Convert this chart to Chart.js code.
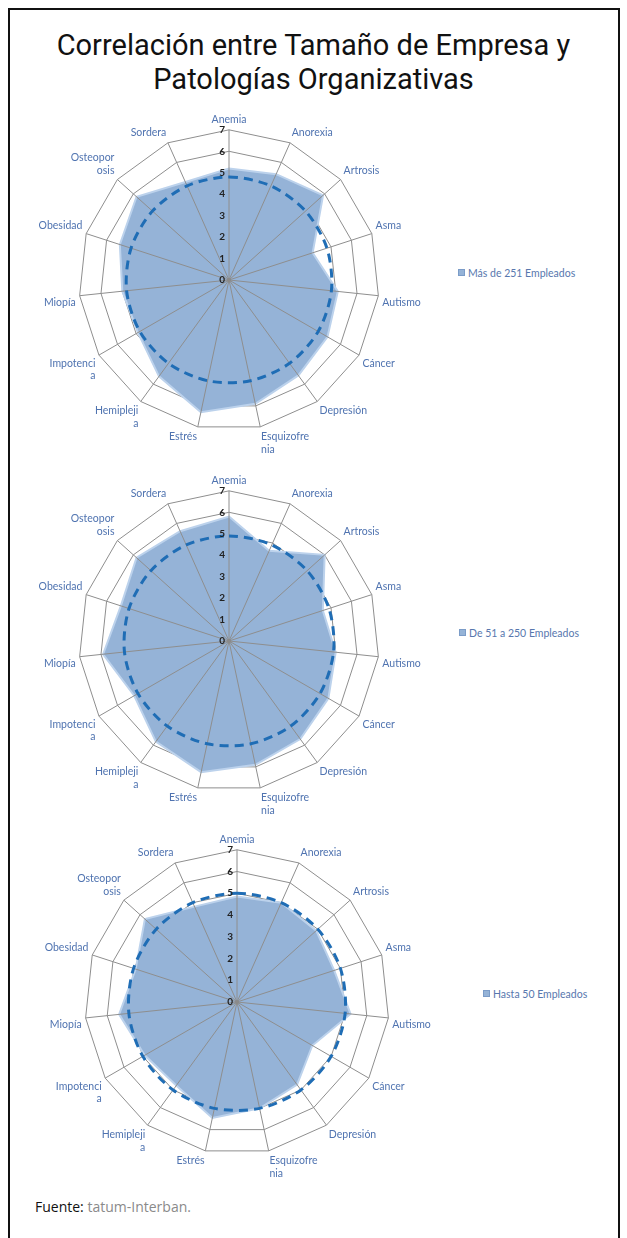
<!DOCTYPE html>
<html lang="es">
<head>
<meta charset="utf-8">
<title>Correlación entre Tamaño de Empresa y Patologías Organizativas</title>
<script src="https://cdn.jsdelivr.net/npm/chart.js@4.4.1/dist/chart.umd.min.js"></script>
<style>
  html, body { margin: 0; padding: 0; background: #fff; }
  body { width: 627px; height: 1238px; position: relative; overflow: hidden; }
  .marco { position: absolute; left: 8px; top: 8px; width: 608px; height: 1240px; border: 2px solid #111; border-bottom: none; }
  h1 { position: absolute; left: 0; top: 28px; width: 627px; margin: 0; text-align: center;
       font-family: Roboto, sans-serif; font-weight: 400; font-size: 29px; line-height: 34px; color: #111; }
  .grafico { position: absolute; }
  .leyenda { position: absolute; font-family: Lato, sans-serif; font-size: 10.5px; line-height: 12px; color: #5877ae; white-space: nowrap; }
  .leyenda i { display: inline-block; width: 5px; height: 5px; margin-right: 3px; vertical-align: 1px; }
  .fuente { position: absolute; left: 35px; top: 1197px; font-family: "Open Sans", sans-serif; font-size: 14px; color: #111; }
  .fuente span { color: #8a8a8a; }
</style>
</head>
<body>
<div class="marco"></div>
<h1>Correlación entre Tamaño de Empresa y<br>Patologías Organizativas</h1>
<canvas id="g1" class="grafico" width="440" height="351" style="left:9px;top:110px"></canvas>
<canvas id="g2" class="grafico" width="440" height="351" style="left:9px;top:471px"></canvas>
<canvas id="g3" class="grafico" width="440" height="355" style="left:17px;top:830px"></canvas>
<div id="l1" class="leyenda" style="left:458px;top:267px"></div>
<div id="l2" class="leyenda" style="left:459px;top:627px"></div>
<div id="l3" class="leyenda" style="left:483px;top:988px"></div>
<div class="fuente">Fuente: <span>tatum-Interban.</span></div>
<script>
// categorías (partidas en líneas como en el original)
const categorias = [['Anemia'], ['Anorexia'], ['Artrosis'], ['Asma'], ['Autismo'], ['Cáncer'], ['Depresión'],
  ['Esquizofre', 'nia'], ['Estrés'], ['Hemipleji', 'a'], ['Impotenci', 'a'], ['Miopía'], ['Obesidad'],
  ['Osteopor', 'osis'], ['Sordera']];

// valores por tamaño de empresa
const serieMas251   = [5.2, 5.4, 5.9, 4.1, 5.1, 5.3, 5.5, 5.9, 6.3, 5.55, 4.9, 5.0, 5.35, 5.8, 5.0];
const serieDe51a250 = [5.8, 4.6, 6.0, 4.6, 5.0, 5.35, 5.65, 5.9, 6.25, 5.8, 5.1, 5.9, 5.3, 5.8, 5.6];
const serieHasta50  = [4.85, 5.0, 4.9, 4.7, 5.25, 4.0, 4.7, 5.0, 5.45, 4.75, 4.9, 5.45, 4.9, 5.7, 4.8];

// línea discontinua de referencia
const referencia1 = [4.8, 4.8, 4.8, 4.8, 4.8, 4.8, 4.8, 4.8, 4.8, 4.8, 4.8, 4.8, 4.8, 4.8, 4.8];
const referencia2 = [4.9, 4.9, 4.9, 4.9, 4.9, 4.9, 4.9, 4.9, 4.9, 4.9, 4.9, 4.9, 4.9, 4.9, 4.9];
const referencia3 = [5, 5, 5, 5, 5, 5, 5, 5, 5, 5, 5, 5, 5, 5, 5];

const marcasEje = [0, 1, 2, 3, 4, 5, 6, 7];
const nombres = ['Más de 251 Empleados', 'De 51 a 250 Empleados', 'Hasta 50 Empleados'];

const colorRelleno = '#95b3d7';
const colorBorde = '#bcd2ec';

// radios encima del relleno (debajo de la discontinua) y números del eje
const ejesPlugin = {
  id: 'ejes',
  beforeDatasetDraw(chart, args) {
    if (args.index !== 0) return;
    const r = chart.scales.r;
    const ctx = chart.ctx;
    ctx.save();
    ctx.strokeStyle = '#8e8e8e';
    ctx.lineWidth = 1;
    categorias.forEach((c, i) => {
      const p = r.getPointPositionForValue(i, r.max);
      ctx.beginPath();
      ctx.moveTo(r.xCenter, r.yCenter);
      ctx.lineTo(p.x, p.y);
      ctx.stroke();
    });
    ctx.restore();
  },
  afterDatasetsDraw(chart) {
    const r = chart.scales.r;
    const ctx = chart.ctx;
    ctx.save();
    ctx.fillStyle = '#222';
    ctx.font = 'bold 10px Lato';
    ctx.textAlign = 'right';
    ctx.textBaseline = 'middle';
    marcasEje.forEach(v => {
      ctx.fillText(String(v), r.xCenter - 4, r.yCenter - r.getDistanceFromCenterForValue(v));
    });
    ctx.fillStyle = '#8a8a8a';
    ctx.beginPath();
    ctx.arc(r.xCenter, r.yCenter, 2, 0, Math.PI * 2);
    ctx.fill();
    ctx.restore();
  }
};

function crearRadar(id, nombre, valores, referencia) {
  return new Chart(document.getElementById(id), {
    type: 'radar',
    data: {
      labels: categorias,
      datasets: [{
        label: '',
        data: referencia,
        fill: false,
        borderColor: '#1f6db5',
        borderWidth: 3,
        borderDash: [9, 6],
        tension: 0.3,
        pointRadius: 0
      }, {
        label: nombre,
        data: valores,
        fill: true,
        backgroundColor: colorRelleno,
        borderColor: colorBorde,
        borderWidth: 2,
        pointRadius: 0
      }]
    },
    options: {
      responsive: false,
      animation: false,
      devicePixelRatio: 1,
      plugins: {
        legend: { display: false },
        tooltip: { enabled: false }
      },
      scales: {
        r: {
          min: 0,
          max: 7,
          ticks: { display: false, stepSize: 1 },
          grid: { color: '#8e8e8e', lineWidth: 1 },
          angleLines: { display: false },
          pointLabels: { color: '#4f73b0', font: { family: 'Lato', size: 10.5 }, padding: 4 }
        }
      }
    },
    plugins: [ejesPlugin]
  });
}

// leyenda en html, a la derecha de cada radar
function leyenda(id, chart) {
  const ds = chart.data.datasets[1];
  const el = document.getElementById(id);
  const marca = document.createElement('i');
  marca.style.background = ds.backgroundColor;
  marca.style.border = '1px solid #7b9cc8';
  el.appendChild(marca);
  el.appendChild(document.createTextNode(ds.label));
}

leyenda('l1', crearRadar('g1', nombres[0], serieMas251, referencia1));
leyenda('l2', crearRadar('g2', nombres[1], serieDe51a250, referencia2));
leyenda('l3', crearRadar('g3', nombres[2], serieHasta50, referencia3));
</script>
</body>
</html>
